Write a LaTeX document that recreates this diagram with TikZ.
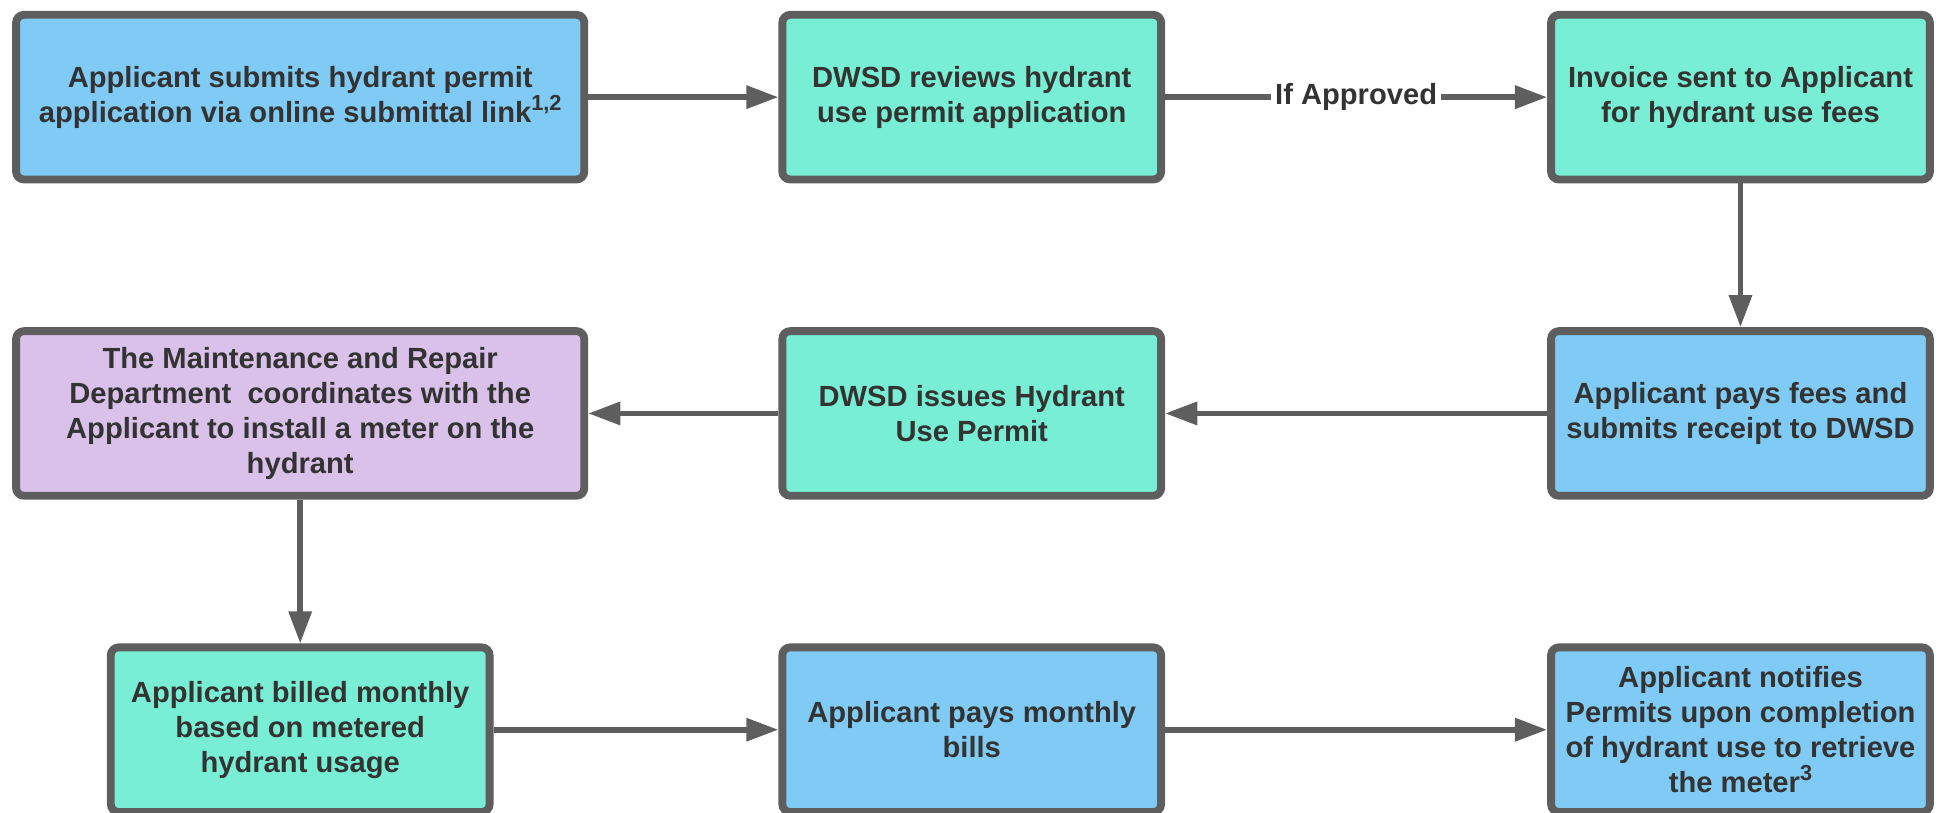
\documentclass[tikz,border=0pt]{standalone}
\usepackage{fontspec}
\setmainfont{Liberation Sans}
\usetikzlibrary{arrows.meta}

\definecolor{edgegray}{HTML}{5E5E5E}
\definecolor{txtgray}{HTML}{333333}
\definecolor{fillblue}{HTML}{7FCBF5}
\definecolor{fillgreen}{HTML}{78EED4}
\definecolor{fillpurple}{HTML}{D9C1EA}

\newcommand{\supnote}[1]{\raisebox{0.75ex}{\fontsize{5}{6}\selectfont #1}}

\tikzset{
    stage/.style={draw=edgegray, line width=1.8pt, rounded corners=1.8pt,
        text=txtgray, align=center, inner sep=0pt,
        font=\bfseries\fontsize{6.7}{8}\selectfont,
        minimum width=3.06cm, minimum height=1.33cm},
    flow/.style={draw=edgegray, line width=1.3pt,
        -{Triangle[length=2.6mm,width=1.8mm]}}
}

\begin{document}
\begin{tikzpicture}
    \useasboundingbox (0,0) rectangle (15.68,6.56);

    % first row
    \node[stage, fill=fillblue, minimum width=4.59cm] (submit) at (2.425,5.775)
        {Applicant submits hydrant permit\\application via online submittal link\supnote{1,2}};
    \node[stage, fill=fillgreen] (review) at (7.85,5.775)
        {DWSD reviews hydrant\\use permit application};
    \node[stage, fill=fillgreen] (invoice) at (14.06,5.775)
        {Invoice sent to Applicant\\for hydrant use fees};

    % second row
    \node[stage, fill=fillpurple, minimum width=4.59cm] (meter) at (2.425,3.22)
        {The Maintenance and Repair\\Department~ coordinates with the\\Applicant to install a meter on the\\hydrant};
    \node[stage, fill=fillgreen] (issue) at (7.85,3.22)
        {DWSD issues Hydrant\\Use Permit};
    \node[stage, fill=fillblue] (pay) at (14.06,3.22)
        {Applicant pays fees and\\submits receipt to DWSD};

    % third row
    \node[stage, fill=fillgreen] (billed) at (2.425,0.665)
        {Applicant billed monthly\\based on metered\\hydrant usage};
    \node[stage, fill=fillblue] (bills) at (7.85,0.665)
        {Applicant pays monthly\\bills};
    \node[stage, fill=fillblue] (notify) at (14.06,0.665)
        {Applicant notifies\\Permits upon completion\\of hydrant use to retrieve\\the meter\supnote{3}};

    \draw[flow] (submit) -- (review);
    \draw[flow] (review) -- node[fill=white, inner sep=1pt, text=txtgray,
        font=\bfseries\fontsize{6.7}{8}\selectfont] {If Approved} (invoice);
    \draw[flow] (invoice) -- (pay);
    \draw[flow] (pay) -- (issue);
    \draw[flow] (issue) -- (meter);
    \draw[flow] (meter) -- (billed);
    \draw[flow] (billed) -- (bills);
    \draw[flow] (bills) -- (notify);
\end{tikzpicture}
\end{document}
